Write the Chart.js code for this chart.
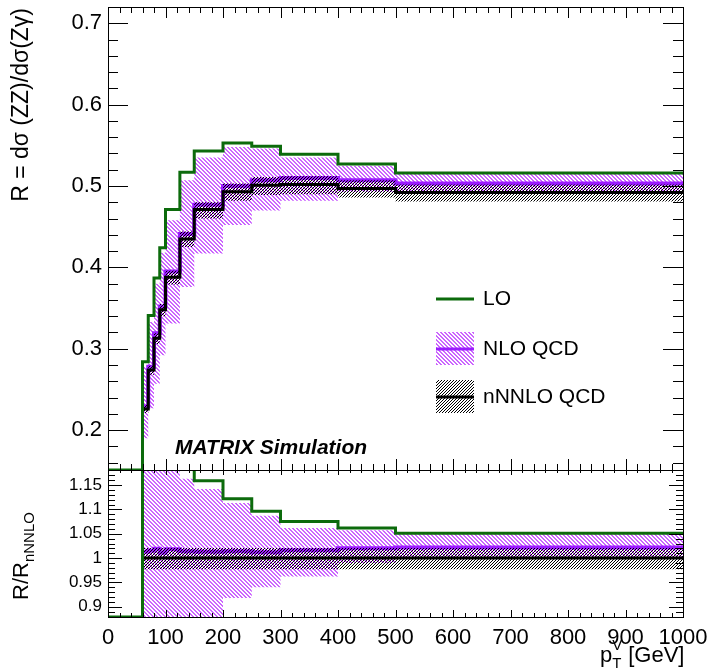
<!DOCTYPE html>
<html><head><meta charset="utf-8">
<script src="https://cdn.jsdelivr.net/npm/chart.js@4.4.0/dist/chart.umd.min.js"></script>
<style>
html,body{margin:0;padding:0;background:#fff;}
#wrap{position:relative;width:710px;height:672px;background:#fff;}
canvas{position:absolute;left:0;top:0;}
</style></head><body>
<div id="wrap"><canvas id="topc" width="710" height="672"></canvas><canvas id="botc" width="710" height="672"></canvas></div>
<script>
// ---- data ----
const binEdges = [0,60,70,80,90,100,125,150,200,250,300,400,500,1000];
const loValues    = [0,0.284,0.341,0.387,0.424,0.471,0.517,0.543,0.553,0.549,0.539,0.527,0.516];
const nloValues   = [null,0.229,0.278,0.319,0.352,0.395,0.441,0.477,0.500,0.507,0.510,0.507,0.503];
const nloUp       = [null,0.278,0.333,0.380,0.418,0.458,0.507,0.535,0.548,0.546,0.535,0.525,0.517];
const nloDown     = [null,0.190,0.227,0.257,0.292,0.331,0.376,0.417,0.452,0.470,0.482,0.493,0.491];
const nnnloValues = [null,0.226,0.274,0.313,0.348,0.388,0.435,0.471,0.493,0.501,0.502,0.497,0.492];
const nnnloUp     = [null,0.231,0.279,0.319,0.355,0.396,0.444,0.480,0.503,0.511,0.512,0.507,0.502];
const nnnloDown   = [null,0.221,0.268,0.306,0.340,0.379,0.425,0.460,0.482,0.489,0.490,0.486,0.481];

const loRatio        = [0,1.257,1.245,1.236,1.218,1.214,1.189,1.159,1.122,1.096,1.075,1.062,1.051];
const nloRatio       = [null,1.013,1.015,1.019,1.011,1.018,1.014,1.013,1.014,1.012,1.016,1.020,1.022];
const nloRatioUp     = [null,1.23,1.22,1.21,1.20,1.19,1.163,1.142,1.113,1.087,1.062,1.057,1.050];
const nloRatioDown   = [null,0.84,0.83,0.82,0.84,0.85,0.865,0.875,0.918,0.940,0.962,0.99,1.0];
const nnnloRatio     = [null,1,1,1,1,1,1,1,1,1,1,1,1];
const nnnloRatioUp   = [null,1.021,1.021,1.021,1.021,1.021,1.021,1.021,1.021,1.021,1.021,1.021,1.021];
const nnnloRatioDown = [null,0.977,0.977,0.977,0.977,0.977,0.977,0.977,0.977,0.977,0.977,0.977,0.977];

const xTickLabels     = [0,100,200,300,400,500,600,700,800,900,1000];
const topYTickLabels  = [0.2,0.3,0.4,0.5,0.6,0.7];
const ratioYTickLabels= [0.9,0.95,1,1.05,1.1,1.15];

const legendLabels = ['LO','NLO QCD','nNNLO QCD'];
// ---- styles ----
const GREEN='#0c6b0c', PURPLE='#9b1cff', PINK='#cc66ff', BLACK='#000';
const FONT='"Liberation Sans", Arial, sans-serif';
const TOP={min:0.151,max:0.72}, RAT={min:0.879,max:1.181};

function hatch(ctx,color,dir,size,thick){
  const c=document.createElement('canvas'); c.width=c.height=size;
  const g=c.getContext('2d'); g.fillStyle=color;
  for(let i=0;i<size;i++){
    for(let t=0;t<thick;t++){
      const x0 = dir>0 ? i : size-1-i;
      g.fillRect((x0+t)%size,i,1,1);
    }
  }
  return ctx.createPattern(c,'repeat');
}
function pinkHatch(ctx){ return hatch(ctx,PINK,1,4,2); }
function blackHatch(ctx){ return hatch(ctx,'#000',-1,3,1); }
function steps(vals,rng){
  const pts = vals.map((v,i)=>({x:binEdges[i], y: v==null?null:Math.max(v,rng.min)}));
  const last = vals[vals.length-1];
  pts.push({x:binEdges[binEdges.length-1], y: Math.max(last,rng.min)});
  return pts;
}
function datasets(ctx,rng,lo,nlo,nloU,nloD,nn,nnU,nnD){
  const pink=pinkHatch(ctx), blk=blackHatch(ctx);
  const base={stepped:'before',pointRadius:0,tension:0,spanGaps:false};
  return [
    {...base,data:steps(nloU,rng),borderWidth:0,fill:'+1',backgroundColor:pink,order:10},
    {...base,data:steps(nloD,rng),borderWidth:0,fill:false,order:9},
    {...base,data:steps(nlo,rng),borderColor:PURPLE,borderWidth:4,fill:false,order:8},
    {...base,data:steps(nnU,rng),borderWidth:0,fill:'+1',backgroundColor:blk,order:7},
    {...base,data:steps(nnD,rng),borderWidth:0,fill:false,order:6},
    {...base,data:steps(nn,rng),borderColor:BLACK,borderWidth:3,fill:false,order:5},
    {...base,data:steps(lo,rng),borderColor:GREEN,borderWidth:3,fill:false,order:1},
  ];
}
function drawFrame(chart,cfg){
  const {ctx,chartArea:a,scales:{x,y}}=chart;
  ctx.save(); ctx.strokeStyle='#000'; ctx.lineWidth=1; ctx.beginPath();
  for(let k=0;k<=50;k++){
    const px=Math.round(x.getPixelForValue(k*20))+0.5, maj=k%5===0;
    const lb=maj?cfg.xb[0]:cfg.xb[1], lt=maj?cfg.xt[0]:cfg.xt[1];
    ctx.moveTo(px,a.bottom); ctx.lineTo(px,a.bottom-lb);
    ctx.moveTo(px,a.top); ctx.lineTo(px,a.top+lt);
  }
  for(let k=cfg.k0;k<=cfg.k1;k++){
    const v=k*cfg.step; if(v<y.min||v>y.max) continue;
    const py=Math.round(y.getPixelForValue(v))+0.5, maj=k%cfg.per===0;
    const l=maj?cfg.yl[0]:cfg.yl[1];
    ctx.moveTo(a.left,py); ctx.lineTo(a.left+l,py);
    ctx.moveTo(a.right,py); ctx.lineTo(a.right-l,py);
  }
  ctx.stroke();
  ctx.strokeRect(Math.round(a.left)+0.5,Math.round(a.top)+0.5,Math.round(a.right-a.left),Math.round(a.bottom-a.top));
  ctx.restore();
}
function commonOpts(rng,yTicks,fontSize,padding,showX){
  return {
    responsive:false, animation:false, devicePixelRatio:1,
    layout:{padding},
    plugins:{legend:{display:false},tooltip:{enabled:false}},
    scales:{
      x:{type:'linear',min:0,max:1000,display:showX,
         grid:{display:false},border:{display:false},
         afterBuildTicks:s=>{s.ticks=xTickLabels.map(v=>({value:v}));},
         afterFit:s=>{ if(showX) s.height=55; s.paddingLeft=0; s.paddingRight=0; },
         ticks:{autoSkip:false,maxRotation:0,padding:0,color:'#000',font:{family:FONT,size:22},callback:v=>String(v)}},
      y:{type:'linear',min:rng.min,max:rng.max,
         grid:{display:false,drawTicks:false},border:{display:false},
         afterBuildTicks:s=>{s.ticks=yTicks.map(v=>({value:v}));},
         afterFit:s=>{s.width=108; s.paddingTop=0; s.paddingBottom=0;},
         ticks:{padding:6,color:'#000',font:{family:FONT,size:fontSize},callback:v=>String(v)}}
    }
  };
}
// ---- top panel ----
const tctx=document.getElementById('topc').getContext('2d');
const topOpts=commonOpts(TOP,topYTickLabels,22,{left:0,right:27,top:7,bottom:202},false);
const topPlugin={id:'topdeco',afterDraw(chart){
  drawFrame(chart,{xb:[11,6],xt:[11,6],k0:5,k1:36,step:0.02,per:5,yl:[20,10]});
  const c=chart.ctx; c.save();
  // y title
  c.translate(22,8); c.rotate(-Math.PI/2);
  c.font='23px '+FONT; c.fillStyle='#000'; c.textAlign='right'; c.textBaseline='middle';
  c.fillText('R = dσ (ZZ)/dσ(Zγ)',0,0);
  c.restore(); c.save();
  // label
  c.font='italic bold 21px '+FONT; c.fillStyle='#000'; c.textBaseline='middle'; c.textAlign='left';
  c.fillText('MATRIX Simulation',175,448);
  // legend
  const pink=pinkHatch(c), blk=blackHatch(c);
  c.lineWidth=3; c.strokeStyle=GREEN; c.beginPath(); c.moveTo(436,299); c.lineTo(474,299); c.stroke();
  c.fillStyle=pink; c.fillRect(436,332,38,33);
  c.strokeStyle=PURPLE; c.beginPath(); c.moveTo(436,349); c.lineTo(474,349); c.stroke();
  c.fillStyle=blk; c.fillRect(436,380,38,33);
  c.strokeStyle=BLACK; c.beginPath(); c.moveTo(436,397); c.lineTo(474,397); c.stroke();
  c.font='21px '+FONT; c.fillStyle='#000'; c.textBaseline='middle';
  c.fillText(legendLabels[0],483,299); c.fillText(legendLabels[1],483,349); c.fillText(legendLabels[2],483,397);
  c.restore();
}};
new Chart(tctx,{type:'line',data:{datasets:datasets(tctx,TOP,loValues,nloValues,nloUp,nloDown,nnnloValues,nnnloUp,nnnloDown)},options:topOpts,plugins:[topPlugin]});
// ---- ratio panel ----
const bctx=document.getElementById('botc').getContext('2d');
const botOpts=commonOpts(RAT,ratioYTickLabels,17,{left:0,right:27,top:470,bottom:0},true);
const botPlugin={id:'botdeco',afterDraw(chart){
  drawFrame(chart,{xb:[7,4],xt:[5,3],k0:87,k1:119,step:0.01,per:5,yl:[14,7]});
  const c=chart.ctx; c.save();
  c.translate(22,600); c.rotate(-Math.PI/2);
  c.fillStyle='#000'; c.textBaseline='middle'; c.textAlign='left';
  c.font='22px '+FONT; c.fillText('R/R',0,0);
  const w=c.measureText('R/R').width;
  c.font='15px '+FONT; c.fillText('nNNLO',w,8);
  c.restore(); c.save();
  // x title
  c.fillStyle='#000'; c.textBaseline='alphabetic'; c.textAlign='left';
  c.font='22px '+FONT; c.fillText('p',600,662);
  const pw=c.measureText('p').width;
  c.font='15px '+FONT; c.fillText('T',600+pw,668); c.fillText('V',600+pw,650);
  c.font='22px '+FONT; c.fillText('[GeV]',600+pw+16,662);
  c.restore();
}};
new Chart(bctx,{type:'line',data:{datasets:datasets(bctx,RAT,loRatio,nloRatio,nloRatioUp,nloRatioDown,nnnloRatio,nnnloRatioUp,nnnloRatioDown)},options:botOpts,plugins:[botPlugin]});
</script>
</body></html>
